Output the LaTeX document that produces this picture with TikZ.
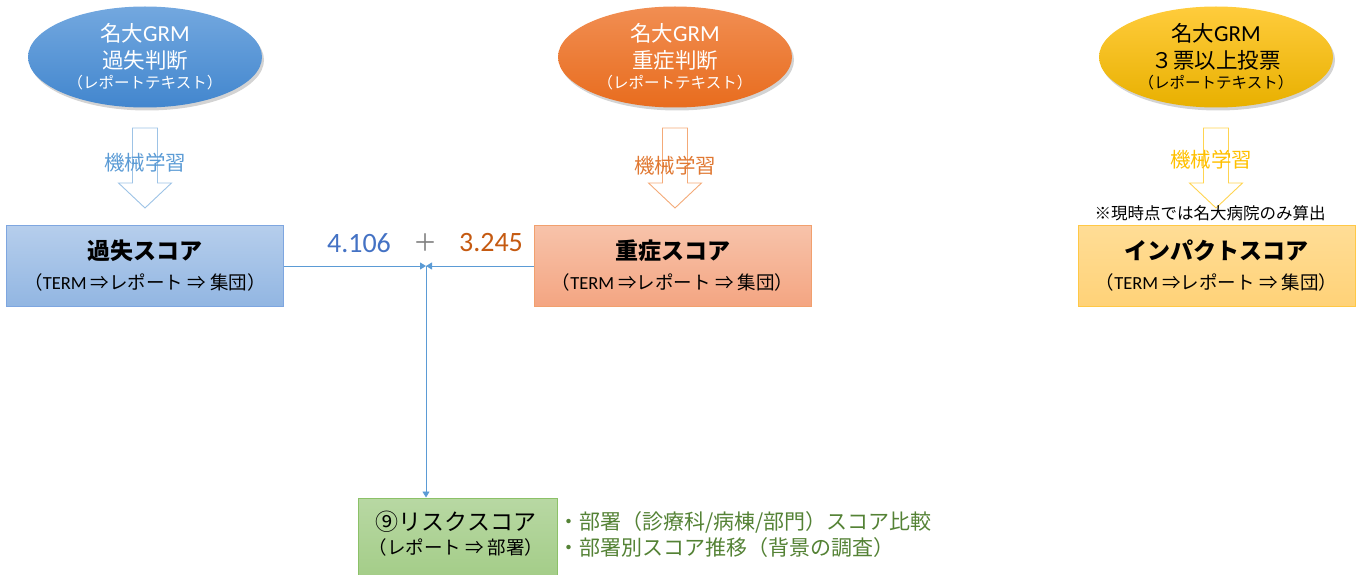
\documentclass[tikz,border=0pt]{standalone}
\usepackage{fontspec}
\setmainfont{Noto Sans CJK JP}
\newfontfamily\lat{Carlito}
\usetikzlibrary{arrows.meta,shadows,shapes.geometric}
\definecolor{ebT}{RGB}{115,168,223}
\definecolor{ebB}{RGB}{66,134,206}
\definecolor{eoT}{RGB}{241,142,82}
\definecolor{eoB}{RGB}{232,108,30}
\definecolor{eyT}{RGB}{255,204,60}
\definecolor{eyB}{RGB}{232,176,0}
\definecolor{arB}{RGB}{157,195,230}
\definecolor{arO}{RGB}{244,170,120}
\definecolor{arY}{RGB}{255,212,80}
\definecolor{txB}{RGB}{91,155,213}
\definecolor{txO}{RGB}{224,120,50}
\definecolor{txY}{RGB}{255,192,0}
\definecolor{numB}{RGB}{68,114,196}
\definecolor{numO}{RGB}{197,90,17}
\definecolor{bulG}{RGB}{84,130,53}
\definecolor{lineB}{RGB}{91,155,213}
\definecolor{b1T}{RGB}{182,206,236}
\definecolor{b1B}{RGB}{146,182,226}
\definecolor{b1D}{RGB}{126,166,224}
\definecolor{b2T}{RGB}{247,195,170}
\definecolor{b2B}{RGB}{244,165,130}
\definecolor{b2D}{RGB}{241,160,110}
\definecolor{b3T}{RGB}{255,221,150}
\definecolor{b3B}{RGB}{255,210,120}
\definecolor{b3D}{RGB}{255,200,70}
\definecolor{b4T}{RGB}{184,216,163}
\definecolor{b4B}{RGB}{162,204,134}
\definecolor{b4D}{RGB}{140,193,104}
\tikzset{
  oval/.style={ellipse, inner sep=0pt, minimum width=234pt, minimum height=101pt,
    drop shadow={opacity=0.35, shadow xshift=2pt, shadow yshift=-3pt}},
  scorebox/.style={rectangle, inner sep=0pt, line width=1pt, minimum width=277pt, minimum height=81pt},
  etext/.style={inner sep=0pt, font=\fontsize{21.5}{24}\selectfont},
  esmall/.style={inner sep=0pt, font=\fontsize{15.5}{18}\selectfont},
  ml/.style={inner sep=0pt, font=\fontsize{20.5}{24}\selectfont},
  btitle/.style={inner sep=0pt, font=\fontsize{23}{27}\selectfont\bfseries},
  bsub/.style={inner sep=0pt, font=\fontsize{18.5}{21}\selectfont},
  barrow/.style={line width=0.9pt, fill=white, line join=miter},
  conn/.style={draw=lineB, line width=0.9pt, -{Triangle[width=7pt,length=6pt]}},
  num/.style={inner sep=0pt, font=\lat\fontsize{28}{30}\selectfont},
  bullet/.style={inner sep=0pt, anchor=west, text=bulG, font=\fontsize{21}{24}\selectfont},
}
\newcommand\blockarr[2]{%
  \draw[barrow, draw=#2] ({#1-12.5},128) -- ({#1+12.5},128) -- ({#1+12.5},183) -- ({#1+26.5},183)
    -- (#1,208) -- ({#1-26.5},183) -- ({#1-12.5},183) -- cycle;}
\begin{document}
\begin{tikzpicture}[x=1pt,y=-1pt]
\useasboundingbox (0,0) rectangle (1365,575);
% ellipses
\node[oval, top color=ebT, bottom color=ebB] (e1) at (145,57) {};
\node[oval, top color=eoT, bottom color=eoB] (e2) at (675,57) {};
\node[oval, top color=eyT, bottom color=eyB] (e3) at (1216,57) {};
\node[etext, text=white] (e1a) at (145,33) {名大{\lat\fontsize{23}{24}\selectfont GRM}};
\node[etext, text=white] (e1b) at (145,60) {過失判断};
\node[esmall, text=white] (e1c) at (145,83) {（レポートテキスト）};
\node[etext, text=white] (e2a) at (675,33) {名大{\lat\fontsize{23}{24}\selectfont GRM}};
\node[etext, text=white] (e2b) at (675,60) {重症判断};
\node[esmall, text=white] (e2c) at (675,83) {（レポートテキスト）};
\node[etext, text=black] (e3a) at (1216,33) {名大{\lat\fontsize{23}{24}\selectfont GRM}};
\node[etext, text=black] (e3b) at (1216,60) {３票以上投票};
\node[esmall, text=black] (e3c) at (1216,83) {（レポートテキスト）};
% block arrows
\blockarr{145}{arB}
\blockarr{675}{arO}
\blockarr{1216}{arY}
\node[ml, text=txB] (m1) at (145,163) {機械学習};
\node[ml, text=txO] (m2) at (675,166) {機械学習};
\node[ml, text=txY] (m3) at (1211,160) {機械学習};
\node[inner sep=0pt, font=\fontsize{16.5}{18}\selectfont] (note) at (1210,213) {※現時点では名大病院のみ算出};
% score boxes
\node[scorebox, top color=b1T, bottom color=b1B, draw=b1D] (s1) at (145,265.5) {};
\node[scorebox, top color=b2T, bottom color=b2B, draw=b2D] (s2) at (672.5,265.5) {};
\node[scorebox, top color=b3T, bottom color=b3B, draw=b3D] (s3) at (1216.5,265.5) {};
\node[btitle] (s1t) at (145,251) {過失スコア};
\node[bsub] (s1s) at (145,282) {（{\lat TERM} ⇒レポート ⇒ 集団）};
\node[btitle] (s2t) at (672.5,251) {重症スコア};
\node[bsub] (s2s) at (672.5,282) {（{\lat TERM} ⇒レポート ⇒ 集団）};
\node[btitle] (s3t) at (1216.5,251) {インパクトスコア};
\node[bsub] (s3s) at (1216.5,282) {（{\lat TERM} ⇒レポート ⇒ 集団）};
% risk box
\node[scorebox, minimum width=199pt, minimum height=86pt, top color=b4T, bottom color=b4B, draw=b4D] (r) at (457.5,541) {};
\node[inner sep=0pt, font=\fontsize{23}{27}\selectfont] (rt) at (456,522) {⑨リスクスコア};
\node[bsub] (rs) at (456,547) {（レポート ⇒ 部署）};
% numbers
\node[num, text=numB] (n1) at (359,243) {4.106};
\node[inner sep=0pt, text=gray, font=\fontsize{24}{26}\selectfont] (plus) at (425,243) {＋};
\node[num, text=numO] (n2) at (491,243) {3.245};
% connectors
\coordinate (j) at (426,266);
\draw[conn] (s1.east |- j) -- (j);
\draw[conn] (s2.west |- j) -- (j);
\draw[conn] (j) -- (j |- r.north);
% bullets
\node[bullet] (l1) at (558,522) {・部署（診療科/病棟/部門）スコア比較};
\node[bullet] (l2) at (558,548) {・部署別スコア推移（背景の調査）};
\end{tikzpicture}
\end{document}
